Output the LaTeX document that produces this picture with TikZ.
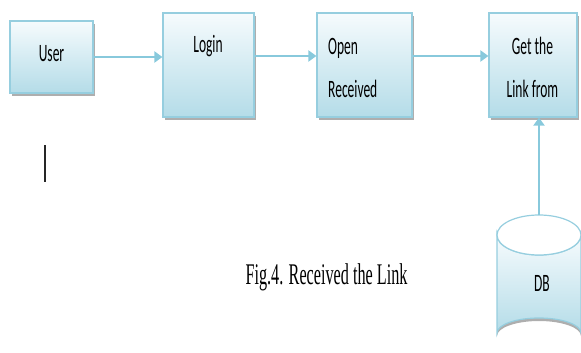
\documentclass[tikz,border=0pt]{standalone}
\usepackage{fontspec}
\usepackage{graphicx}
\setmainfont{Liberation Serif}
\newfontfamily\boxfont{Carlito}
\usetikzlibrary{arrows.meta,shadows}

\definecolor{boxtop}{HTML}{F6FBFD}
\definecolor{boxbot}{HTML}{B4DCE8}
\definecolor{boxline}{HTML}{96CEDF}
\definecolor{flow}{HTML}{88C9DC}

\tikzset{
  stepbox/.style={draw=boxline, line width=1.2pt, top color=boxtop, bottom color=boxbot,
    inner sep=0pt, drop shadow={shadow xshift=1.5pt, shadow yshift=-3pt, fill=black!45, opacity=.7}},
  boxtext/.style={anchor=base, inner sep=0pt, font=\boxfont\fontsize{25}{25}\selectfont},
  flowarrow/.style={draw=flow, line width=2.4pt, -{Triangle[length=8pt,width=11pt]}},
}
\newcommand{\narrow}[1]{\scalebox{0.54}[1]{#1}}

\begin{document}
\begin{tikzpicture}[x=1pt, y=-1pt]
\useasboundingbox (0,0) rectangle (581,353);

% process boxes
\node[stepbox, minimum width=83pt, minimum height=72pt]  (user)  at (51.5,57) {};
\node[stepbox, minimum width=91pt, minimum height=104pt] (login) at (208.5,65) {};
\node[stepbox, minimum width=95pt, minimum height=104pt] (open)  at (364.5,65) {};
\node[stepbox, minimum width=88pt, minimum height=104pt] (get)   at (533,65) {};

% box labels
\node[boxtext] (user-t)  at (51.5,62) {\narrow{User}};
\node[boxtext] (login-t) at (208,53) {\narrow{Login}};
\node[boxtext, anchor=base west] (open-t1) at (328,55) {\narrow{Open}};
\node[boxtext, anchor=base west] (open-t2) at (328,97) {\narrow{Received}};
\node[boxtext] (get-t1) at (532.5,55) {\narrow{Get the}};
\node[boxtext] (get-t2) at (532.5,97) {\narrow{Link from}};

% database cylinder
\fill[black!45, opacity=.7] (497,236) -- (497,336) arc[start angle=180, end angle=360, x radius=42, y radius=15] -- (581,236) -- cycle;
\shade[top color=boxtop, bottom color=boxbot, draw=boxline, line width=1.2pt]
  (497,235) -- (497,333) arc[start angle=180, end angle=360, x radius=42, y radius=15]
  -- (581,235) arc[start angle=0, end angle=180, x radius=42, y radius=20] -- cycle;
\draw[boxline, line width=1.2pt, fill=white] (539,235) ellipse[x radius=42, y radius=20];
\coordinate (dbtop) at (539,215);
\node[boxtext] (db) at (542,291) {\narrow{DB}};

% connectors
\draw[flowarrow] (user.east) -- (user.east -| login.west);
\draw[flowarrow] ([yshift=9pt]login.east) -- ([yshift=9pt]login.east -| open.west);
\draw[flowarrow] ([yshift=9pt]open.east) -- ([yshift=9pt]open.east -| get.west);
\draw[flowarrow] (dbtop) -- (dbtop |- get.south);

% stray text cursor mark
\coordinate (bar-a) at (45,145);
\coordinate (bar-b) at (45,182);
\draw[black!85, line width=1.6pt] (bar-a) -- (bar-b);

% caption
\node[anchor=base, inner sep=0pt, font=\fontsize{30}{30}\selectfont] (caption) at (326.5,284) {\narrow{Fig.4. Received the Link}};
\end{tikzpicture}
\end{document}
